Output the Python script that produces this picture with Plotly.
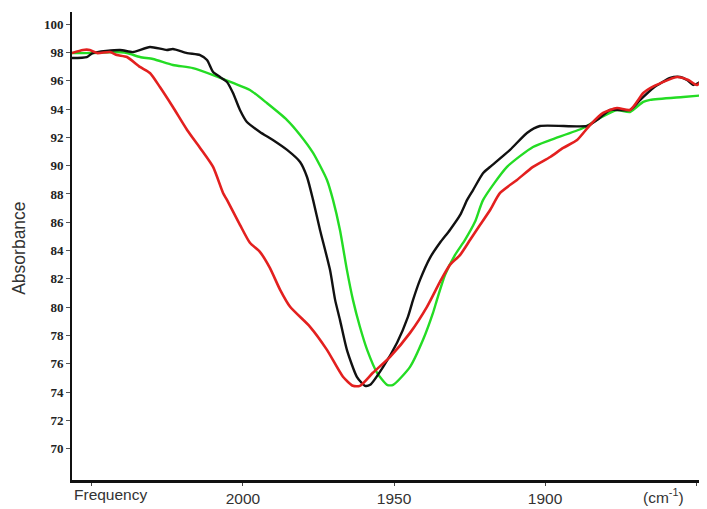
import plotly.graph_objects as go

# Frequency (cm-1) and absorbance values
black_x = [2056.6, 2051.7, 2049.7, 2040.7, 2036.4, 2030.8, 2025.2, 2023.2, 2018.5, 2014.2,
           2011.9, 2009.9, 2007.6, 2005.3, 2003.3, 2001.0, 1998.7, 1994.4, 1990.1, 1985.4,
           1981.1, 1978.8, 1976.8, 1974.5, 1971.2, 1969.5, 1967.9, 1965.6, 1962.3, 1959.6,
           1957.9, 1953.6, 1949.0, 1945.4, 1943.7, 1941.4, 1938.1, 1934.8, 1931.5, 1928.1,
           1925.8, 1923.8, 1920.5, 1918.2, 1911.6, 1906.0, 1901.7, 1886.1, 1882.8, 1878.5,
           1871.9, 1868.5, 1864.2, 1858.6, 1855.3, 1853.0, 1851.0, 1848.7, 1847.7]
black_y = [97.60, 97.67, 97.95, 98.17, 98.02, 98.38, 98.17, 98.24, 97.95, 97.81,
           97.46, 96.61, 96.26, 95.91, 95.13, 93.93, 93.08, 92.38, 91.81, 91.11,
           90.26, 89.20, 87.58, 85.46, 82.64, 80.52, 79.11, 76.99, 75.09, 74.45,
           74.52, 75.79, 77.49, 79.32, 80.52, 81.93, 83.49, 84.55, 85.46, 86.52,
           87.58, 88.29, 89.48, 89.91, 91.11, 92.31, 92.80, 92.80, 93.22, 93.93,
           93.93, 94.64, 95.48, 96.19, 96.26, 96.05, 95.70, 95.91, 96.05]

green_x = [2056.6, 2049.7, 2043.0, 2038.4, 2034.1, 2029.8, 2023.2, 2016.6, 2009.9, 2003.3,
           1997.7, 1992.1, 1985.4, 1981.1, 1976.8, 1972.2, 1970.2, 1967.9, 1965.6, 1963.6,
           1961.3, 1958.9, 1955.6, 1952.3, 1950.3, 1944.7, 1940.4, 1937.1, 1935.8, 1933.1,
           1929.8, 1926.5, 1923.2, 1920.5, 1912.6, 1904.0, 1898.3, 1887.4, 1881.8, 1876.2,
           1871.9, 1867.5, 1865.2, 1854.3, 1846.4]
green_y = [97.95, 97.95, 98.02, 97.95, 97.67, 97.53, 97.11, 96.89, 96.40, 95.84,
           95.34, 94.42, 93.22, 92.17, 90.90, 88.99, 87.58, 85.46, 82.64, 80.52,
           78.62, 76.99, 75.37, 74.52, 74.52, 75.79, 77.70, 79.60, 80.52, 82.29,
           83.70, 84.76, 86.03, 87.58, 89.91, 91.32, 91.81, 92.66, 93.37, 93.93,
           93.79, 94.50, 94.64, 94.85, 94.99]

red_x = [2056.6, 2053.0, 2050.7, 2048.3, 2044.0, 2041.7, 2038.4, 2034.1, 2030.8, 2027.5,
         2023.2, 2018.5, 2014.2, 2009.9, 2006.6, 2005.3, 2001.0, 1997.7, 1994.4, 1991.1,
         1987.7, 1984.4, 1977.8, 1972.2, 1966.9, 1963.6, 1961.3, 1957.0, 1951.3, 1944.7,
         1939.1, 1934.8, 1931.5, 1928.1, 1924.8, 1921.5, 1918.2, 1914.9, 1909.3, 1904.0,
         1898.3, 1894.0, 1889.4, 1885.1, 1880.8, 1876.2, 1871.9, 1867.5, 1865.2, 1856.3,
         1852.6, 1849.7, 1846.4]
red_y = [97.95, 98.17, 98.17, 97.95, 98.02, 97.81, 97.67, 96.97, 96.54, 95.55,
         94.14, 92.52, 91.25, 89.91, 88.07, 87.58, 85.82, 84.55, 83.91, 82.78,
         81.23, 80.03, 78.62, 76.99, 75.09, 74.45, 74.45, 75.37, 76.50, 78.19,
         80.03, 81.79, 82.99, 83.70, 84.76, 85.82, 86.87, 88.07, 88.99, 89.91,
         90.61, 91.25, 91.81, 92.87, 93.72, 94.07, 93.93, 95.13, 95.48, 96.26,
         96.05, 95.70, 96.54]

y_ticks = [70, 72, 74, 76, 78, 80, 82, 84, 86, 88, 90, 92, 94, 96, 98, 100]
x_ticks = [2000, 1950, 1900]
x_tick_text = ["2000", "1950", "1900"]
x_edge_ticks = [2050, 1850]

fig = go.Figure()
fig.add_trace(go.Scatter(x=green_x, y=green_y, mode="lines",
                         line=dict(color="#24dc24", width=2.4, shape="spline", smoothing=0.6)))
fig.add_trace(go.Scatter(x=black_x, y=black_y, mode="lines",
                         line=dict(color="#111111", width=2.4, shape="spline", smoothing=0.6)))
fig.add_trace(go.Scatter(x=red_x, y=red_y, mode="lines",
                         line=dict(color="#e3201f", width=2.6, shape="spline", smoothing=0.6)))

# the page body adds an 8px offset, so the figure is sized to fit inside the window
fig.update_layout(
    width=699, height=501,
    margin=dict(l=64, r=0, t=4, b=29),
    paper_bgcolor="white", plot_bgcolor="white",
    showlegend=False,
    xaxis=dict(range=[2056.6, 1846.4], tickvals=x_ticks, ticktext=x_tick_text,
               showgrid=False, zeroline=False, showline=True, linecolor="#111111", linewidth=2.5,
               ticks="outside", ticklen=3, tickcolor="#444444", tickwidth=1,
               minor=dict(tickvals=x_edge_ticks, ticks="outside", ticklen=3,
                          tickcolor="#444444", tickwidth=1, showgrid=False),
               tickfont=dict(family="Liberation Sans, Arial", size=15.5, color="#333333")),
    yaxis=dict(range=[67.8, 100.85], tickvals=y_ticks,
               showgrid=False, zeroline=False, showline=True, linecolor="#111111", linewidth=2,
               ticks="outside", ticklen=4, tickcolor="#555555", tickwidth=1,
               tickfont=dict(family="Liberation Serif, Times New Roman", size=13,
                             color="#222222", weight="bold")),
    annotations=[
        dict(text="Absorbance", xref="paper", yref="paper", x=0, y=0.494, xshift=-53,
             xanchor="center", yanchor="middle",
             textangle=-90, showarrow=False,
             font=dict(family="Liberation Sans, Arial", size=17.5, color="#333333")),
        dict(text="Frequency", xref="paper", yref="paper", x=0, y=0, xanchor="left",
             yanchor="top", yshift=-4, showarrow=False,
             font=dict(family="Liberation Sans, Arial", size=15.5, color="#333333")),
        dict(text="(cm<sup>-1</sup>)", xref="x", yref="paper", x=1860.9, y=0,
             yanchor="top", yshift=-4, showarrow=False,
             font=dict(family="Liberation Sans, Arial", size=15.5, color="#333333")),
    ],
)

fig.write_html("out.html")
